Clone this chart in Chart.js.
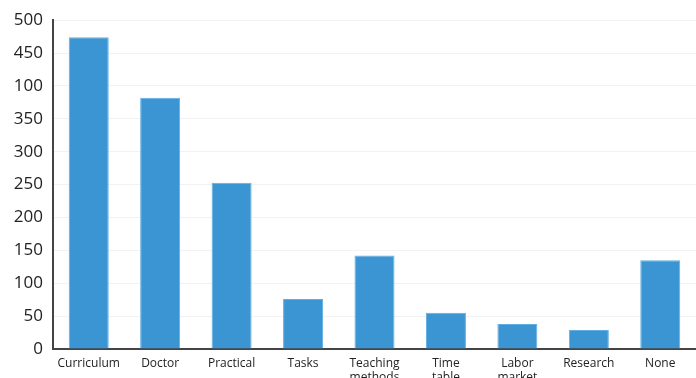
<!DOCTYPE html>
<html>
<head>
<meta charset="utf-8">
<script src="https://cdn.jsdelivr.net/npm/chart.js@4/dist/chart.umd.min.js"></script>
<style>
  html, body { margin: 0; padding: 0; background: #fff; }
  #wrap { width: 696px; height: 378px; }
</style>
</head>
<body>
<div id="wrap"><canvas id="c" width="696" height="378"></canvas></div>
<script>
const categories = ["Curriculum", ["Doctor"], "Practical", "Tasks", ["Teaching", "methods"], ["Time", "table"], ["Labor", "market"], "Research", "None"];
const counts = [474, 382, 253, 76, 142, 55, 38, 29, 135];
const yTickValues = [0, 50, 100, 150, 200, 250, 300, 350, 400, 450, 500];
const yTickLabels = ["0", "50", "100", "150", "200", "250", "300", "350", "100", "450", "500"];

new Chart(document.getElementById('c'), {
  type: 'bar',
  data: {
    labels: categories,
    datasets: [{
      data: counts,
      backgroundColor: '#3b95d3',
      borderColor: '#62aee3',
      borderWidth: 1,
      barPercentage: 0.56,
      categoryPercentage: 1.0
    }]
  },
  options: {
    responsive: false,
    animation: false,
    layout: { padding: { top: 19, right: 0, left: 0, bottom: 0 } },
    plugins: { legend: { display: false }, tooltip: { enabled: false } },
    scales: {
      x: {
        grid: { display: false, drawTicks: false },
        border: { display: true, color: '#444', width: 2 },
        ticks: {
          color: '#222',
          font: { family: 'Open Sans', size: 12 },
          padding: 7,
          maxRotation: 0,
          autoSkip: false
        },
        afterFit: s => { s.height = 29; }
      },
      y: {
        min: 0,
        max: 500,
        afterBuildTicks: s => { s.ticks = yTickValues.map(v => ({ value: v })); },
        grid: { color: '#f2f2f2', drawTicks: false, lineWidth: 1 },
        border: { display: true, color: '#444', width: 2 },
        ticks: {
          color: '#222',
          font: { family: 'Open Sans', size: 17 },
          padding: 10,
          callback: (v) => yTickLabels[yTickValues.indexOf(v)]
        },
        afterFit: s => { s.width = 53; }
      }
    }
  }
});
</script>
</body>
</html>
